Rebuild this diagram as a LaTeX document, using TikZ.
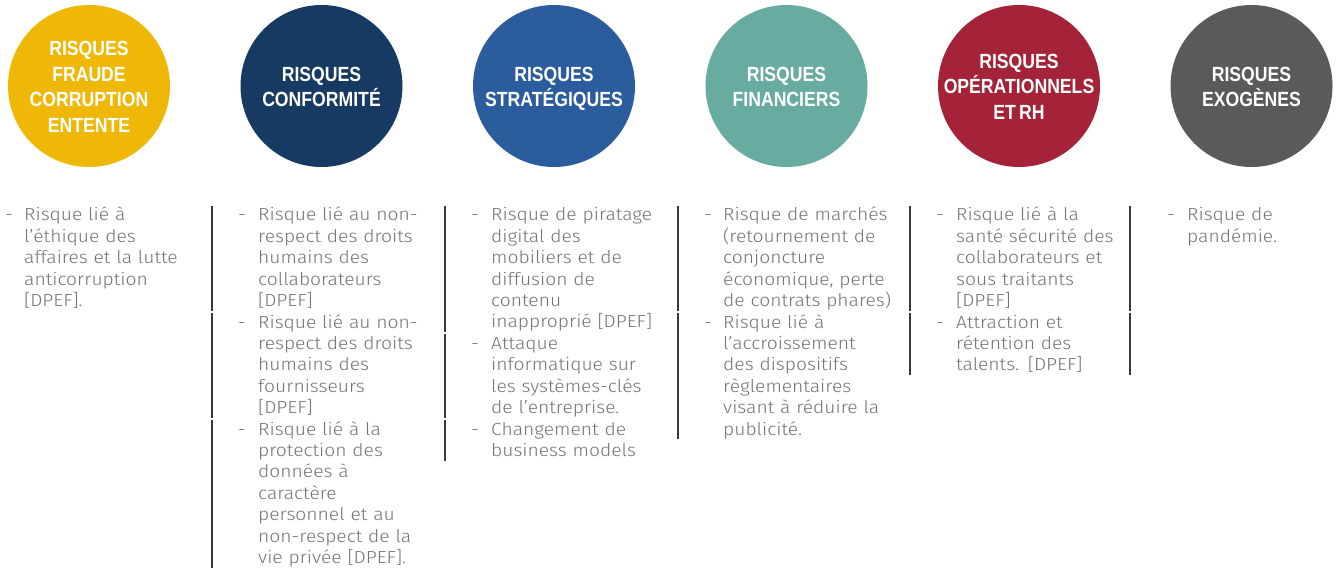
\documentclass[tikz,border=0pt]{standalone}
\usepackage{fontspec}
\IfFontExistsTF{Fira Sans Light}
  {\newfontfamily\bodyfont{Fira Sans Light}[FakeStretch=1.1]}
  {\newfontfamily\bodyfont{Fira Sans}[FakeStretch=1.1]}
\newfontfamily\headfont{Liberation Sans}[FakeStretch=0.86]
\definecolor{cYellow}{HTML}{EFB807}
\definecolor{cNavy}{HTML}{163A62}
\definecolor{cBlue}{HTML}{2A5C9E}
\definecolor{cTeal}{HTML}{68ABA0}
\definecolor{cRed}{HTML}{A52338}
\definecolor{cGray}{HTML}{5A5A59}
\definecolor{bodygray}{HTML}{737373}
\definecolor{rulegray}{HTML}{3A3A3A}
\begin{document}
\begin{tikzpicture}[x=1pt,y=-1pt,
  disc/.style={circle,minimum size=162pt,inner sep=0pt,draw=none},
  head/.style={text=white,font=\headfont\bfseries\fontsize{20.5}{25.5}\selectfont,
    text width=170pt,align=center,anchor=base,inner sep=0pt},
  item/.style={text=bodygray,font=\bodyfont\fontsize{17.5}{21.4}\selectfont,
    text width=220pt,align=left,anchor=base west,inner sep=0pt},
  bullet/.style={text=bodygray,font=\bodyfont\fontsize{17.5}{21.4}\selectfont,
    anchor=base west,inner sep=0pt},
  sep/.style={draw=rulegray,line width=1.6pt}]
\useasboundingbox (0,0) rectangle (1338,569);

% coloured discs with their headings
\node[disc,fill=cYellow] (c1) at (89,86) {};
\node[disc,fill=cNavy]   (c2) at (321.5,86) {};
\node[disc,fill=cBlue]   (c3) at (554,86) {};
\node[disc,fill=cTeal]   (c4) at (786.5,86) {};
\node[disc,fill=cRed]    (c5) at (1019,86) {};
\node[disc,fill=cGray]   (c6) at (1251.5,86) {};

\node[head] (h1) at (89,56)      {RISQUES\\FRAUDE\\CORRUPTION\\ENTENTE};
\node[head] (h2) at (321.5,81.5) {RISQUES\\CONFORMITÉ};
\node[head] (h3) at (554,81.5)   {RISQUES\\STRATÉGIQUES};
\node[head] (h4) at (786.5,81.5) {RISQUES\\FINANCIERS};
\node[head] (h5) at (1019,68.5)  {RISQUES\\OPÉRATIONNELS\\ET\,RH};
\node[head] (h6) at (1251.5,81.5){RISQUES\\EXOGÈNES};

% column 1
\node[bullet] (d11) at (5,221) {-};
\node[item] (i11) at (24,221) {Risque lié à\\l’éthique des\\affaires et la lutte\\anticorruption\\{}[DPEF].};

% column 2
\node[bullet] (d21) at (238,221) {-};
\node[item] (i21) at (258,221) {Risque lié au non-\\respect des droits\\humains des\\collaborateurs\\{}[DPEF]};
\node[bullet] (d22) at (238,328) {-};
\node[item] (i22) at (258,328) {Risque lié au non-\\respect des droits\\humains des\\fournisseurs\\{}[DPEF]};
\node[bullet] (d23) at (238,435) {-};
\node[item] (i23) at (258,435) {Risque lié à la\\protection des\\données à\\caractère\\personnel et au\\non-respect de la\\vie privée [DPEF].};

% column 3
\node[bullet] (d31) at (471,221) {-};
\node[item] (i31) at (491,221) {Risque de piratage\\digital des\\mobiliers et de\\diffusion de\\contenu\\inapproprié [DPEF]};
\node[bullet] (d32) at (471,349.4) {-};
\node[item] (i32) at (491,349.4) {Attaque\\informatique sur\\les systèmes-clés\\de l’entreprise.};
\node[bullet] (d33) at (471,435) {-};
\node[item] (i33) at (491,435) {Changement de\\business models};

% column 4
\node[bullet] (d41) at (704,221) {-};
\node[item] (i41) at (723,221) {Risque de marchés\\(retournement de\\conjoncture\\économique, perte\\de contrats phares)};
\node[bullet] (d42) at (704,328) {-};
\node[item] (i42) at (723,328) {Risque lié à\\l’accroissement\\des dispositifs\\règlementaires\\visant à réduire la\\publicité.};

% column 5
\node[bullet] (d51) at (936,221) {-};
\node[item] (i51) at (956,221) {Risque lié à la\\santé sécurité des\\collaborateurs et\\sous traitants\\{}[DPEF]};
\node[bullet] (d52) at (936,328) {-};
\node[item] (i52) at (956,328) {Attraction et\\rétention des\\talents. [DPEF]};

% column 6
\node[bullet] (d61) at (1167,221) {-};
\node[item] (i61) at (1187,221) {Risque de\\pandémie.};

% vertical rules beside each item
\draw[sep] (212,206) -- (212,311);
\draw[sep] (212,313) -- (212,418);
\draw[sep] (212,420) -- (212,568);
\draw[sep] (445,206) -- (445,332.4);
\draw[sep] (445,334.4) -- (445,418);
\draw[sep] (445,420) -- (445,461);
\draw[sep] (678,206) -- (678,311);
\draw[sep] (678,313) -- (678,439.4);
\draw[sep] (910,206) -- (910,311);
\draw[sep] (910,313) -- (910,375.2);
\draw[sep] (1130,206) -- (1130,311);
\draw[sep] (1130,313) -- (1130,375.2);
\end{tikzpicture}
\end{document}
